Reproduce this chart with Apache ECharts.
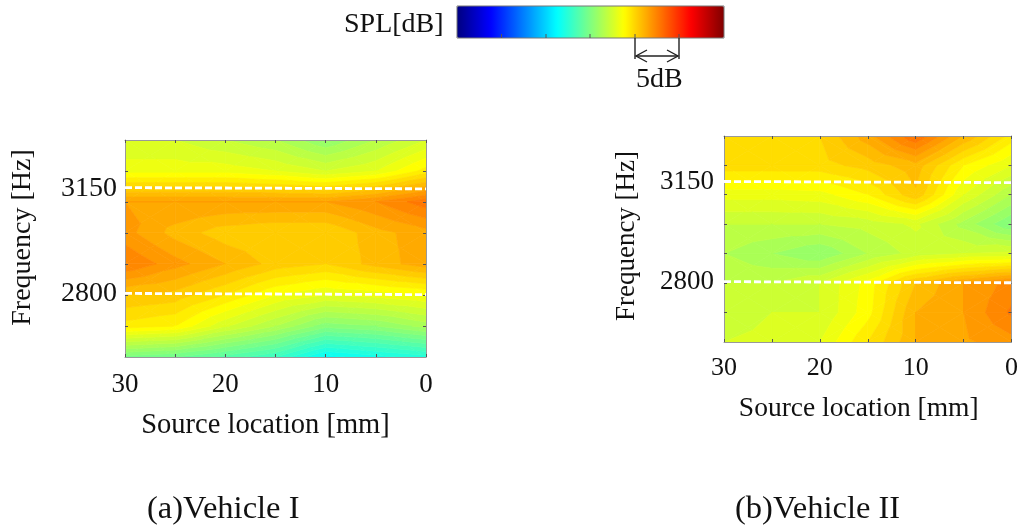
<!DOCTYPE html>
<html><head><meta charset="utf-8">
<style>html,body{margin:0;padding:0;background:#fff}#c{width:1021px;height:527px}</style>
<script src="https://cdn.jsdelivr.net/npm/echarts@6/dist/echarts.min.js"></script>
</head><body><div id="c"></div>
<script>
const sourceCols = [30,25,20,15,10,5,0];
const freqRows = [3310,3207,3105,3002,2899,2796,2693,2590];
const freqTicks = [3207,3105,3002,2899,2796,2693];
const freqLabels = [2800,3150];
const vehicle1 = [
 [17.5,17.5,17.0,16.5,15.5,16.5,17.5],
 [18.3,18.3,18.3,18.0,17.5,18.0,19.2],
 [21.5,21.5,21.5,21.5,21.5,22.0,22.8],
 [21.7,20.8,20.2,20.0,20.0,20.8,21.3],
 [22.5,21.7,21.0,20.3,20.0,20.7,21.3],
 [20.5,20.3,19.5,18.5,18.0,18.2,18.5],
 [19.3,19.0,17.6,16.5,15.2,15.5,16.2],
 [14.8,14.5,13.8,13.0,11.3,11.8,12.3]
];
const vehicle2 = [
 [19.9,20.0,20.0,21.3,23.0,21.0,19.3],
 [19.8,19.8,19.8,20.2,20.8,19.0,18.0],
 [18.2,18.2,18.3,19.0,20.4,18.0,16.5],
 [17.0,17.0,17.0,17.2,17.6,16.3,15.0],
 [16.5,16.0,15.5,16.5,17.2,17.5,17.6],
 [17.0,17.0,17.5,18.7,20.5,21.5,22.2],
 [17.3,17.5,17.5,18.8,21.0,21.5,22.6],
 [17.5,17.6,18.0,19.5,21.0,21.4,21.8]
];
const dashes1 = [[[30,3152],[0,3148]],[[30,2801],[0,2797]]];
const dashes2 = [[[30,3151],[0,3147]],[[30,2801],[0,2797]]];
const xTicksStep = 5, splMax = 30, bandStep = 0.5;
const jetColors = ['#000080','#0000ff','#0080ff','#00ffff','#80ff80','#ffff00','#ff8000','#ff0000','#800000'];

const FONT = '"Liberation Serif","Times New Roman",serif';
const INK = '#111';

function jet(v){
  const t = Math.max(0,Math.min(1,v/splMax))*(jetColors.length-1);
  const i = Math.min(jetColors.length-2,Math.floor(t)), f = t-i;
  const p = s=>[1,3,5].map(k=>parseInt(s.substr(k,2),16));
  const a=p(jetColors[i]), b=p(jetColors[i+1]);
  return 'rgb('+a.map((c,k)=>Math.round(c+(b[k]-c)*f)).join(',')+')';
}
function clip(poly,level,above){
  const out=[], inside=p=>above?p[2]>=level:p[2]<=level;
  for(let i=0;i<poly.length;i++){
    const a=poly[i], b=poly[(i+1)%poly.length];
    if(inside(a)) out.push(a);
    if(inside(a)!==inside(b)){
      const f=(level-a[2])/(b[2]-a[2]);
      out.push([a[0]+(b[0]-a[0])*f,a[1]+(b[1]-a[1])*f,level]);
    }
  }
  return out;
}
function contourItem(values){
  return function(params,api){
    const c=api.value(0), r=api.value(1);
    const P=(i,j)=>[sourceCols[i],freqRows[j],values[j][i]];
    const q=[P(c,r),P(c+1,r),P(c+1,r+1),P(c,r+1)];
    const m=[(q[0][0]+q[1][0])/2,(q[0][1]+q[3][1])/2,(q[0][2]+q[1][2]+q[2][2]+q[3][2])/4];
    const children=[];
    for(let e=0;e<4;e++){
      const tri=[q[e],q[(e+1)%4],m];
      const vs=tri.map(p=>p[2]);
      const k0=Math.floor(Math.min(...vs)/bandStep), k1=Math.floor(Math.max(...vs)/bandStep);
      for(let k=k0;k<=k1;k++){
        const lo=k*bandStep, hi=lo+bandStep;
        const poly=clip(clip(tri,lo,true),hi,false);
        if(poly.length<3) continue;
        const col=jet((lo+hi)/2);
        children.push({type:'polygon',shape:{points:poly.map(p=>api.coord([p[0],p[1]]))},
          style:{fill:col,stroke:col,lineWidth:0.7},silent:true});
      }
    }
    return {type:'group',children};
  };
}
function cells(values){
  const out=[];
  for(let r=0;r<freqRows.length-1;r++) for(let c=0;c<sourceCols.length-1;c++) out.push([c,r,values[r][c]]);
  return out;
}
const xBase = {type:'value',inverse:true,min:0,max:30,interval:xTicksStep,z:5,splitLine:{show:false}};
const yBase = {type:'value',min:2590,max:3310,z:5,splitLine:{show:false}};
const lineS={show:true,onZero:false,lineStyle:{color:'#999',width:1}};
const tickS={show:true,inside:true,length:3,lineStyle:{color:'#555',width:1}};
function xAxes(g,gap,margin,tickFs,nameFs,pad){
  return [
    Object.assign({},xBase,{gridIndex:g,position:'bottom',axisLine:lineS,axisTick:tickS,
      axisLabel:{show:true,margin:margin,color:INK,fontFamily:FONT,fontSize:tickFs,hideOverlap:false,showMinLabel:true,showMaxLabel:true,
        formatter:v=>v%10===0?String(v):''},
      name:'Source location [mm]',nameLocation:'middle',nameGap:gap,
      nameTextStyle:{color:INK,fontFamily:FONT,fontSize:nameFs,padding:[0,pad,0,0]}}),
    Object.assign({},xBase,{gridIndex:g,position:'top',axisLine:lineS,axisTick:tickS,axisLabel:{show:false}})
  ];
}
function yAxes(g,gap,margin,tickFs,nameFs,pad){
  return [
    Object.assign({},yBase,{gridIndex:g,position:'left',axisLine:lineS,
      axisTick:Object.assign({},tickS,{customValues:freqTicks}),
      axisLabel:{show:true,margin:margin,color:INK,fontFamily:FONT,fontSize:tickFs,customValues:freqLabels,formatter:v=>String(v)},
      name:'Frequency [Hz]',nameLocation:'middle',nameGap:gap,nameRotate:90,
      nameTextStyle:{color:INK,fontFamily:FONT,fontSize:nameFs,padding:[0,0,0,pad]}}),
    Object.assign({},yBase,{gridIndex:g,position:'right',axisLine:lineS,
      axisTick:Object.assign({},tickS,{customValues:freqTicks}),axisLabel:{show:false}})
  ];
}
function dashSeries(d,ax){
  return d.map(seg=>({type:'line',xAxisIndex:ax,yAxisIndex:ax,data:seg,showSymbol:false,symbol:'none',silent:true,z:6,
    lineStyle:{color:'#fff',width:2.8,type:[7,3]}}));
}
const bracket={stroke:'#222',lineWidth:1.4};
const option={
  animation:false,
  backgroundColor:'#fff',
  title:[
    {text:'SPL[dB]',left:344,top:11,textStyle:{fontFamily:FONT,fontSize:28,fontWeight:'normal',color:INK},padding:0},
    {text:'5dB',left:636,top:66,textStyle:{fontFamily:FONT,fontSize:28,fontWeight:'normal',color:INK},padding:0},
    {text:'(a)Vehicle I',left:147,top:493,textStyle:{fontFamily:FONT,fontSize:32.5,fontWeight:'normal',color:INK},padding:0},
    {text:'(b)Vehicle II',left:735,top:493,textStyle:{fontFamily:FONT,fontSize:32.5,fontWeight:'normal',color:INK},padding:0}
  ],
  grid:[
    {left:125,top:140,width:301,height:217},
    {left:724,top:136,width:289,height:206}
  ],
  xAxis:[...xAxes(0,54,14,27,28.5,20),...xAxes(1,53,13,26,27.5,18)],
  yAxis:[...yAxes(0,88,8,28,28,22),...yAxes(1,84,10,27,27,6)],
  visualMap:{type:'continuous',show:true,seriesIndex:[0,1],dimension:2,min:0,max:splMax,
    orient:'horizontal',left:457,top:6,itemWidth:32,itemHeight:267,padding:0,text:null,
    calculable:false,realtime:false,hoverLink:false,showLabel:false,textStyle:{fontSize:0,color:'transparent'},
    inRange:{color:jetColors},outOfRange:{color:jetColors}},
  series:[
    {type:'custom',xAxisIndex:0,yAxisIndex:0,coordinateSystem:'cartesian2d',data:cells(vehicle1),renderItem:contourItem(vehicle1),z:2,clip:true},
    {type:'custom',xAxisIndex:2,yAxisIndex:2,coordinateSystem:'cartesian2d',data:cells(vehicle2),renderItem:contourItem(vehicle2),z:2,clip:true},
    ...dashSeries(dashes1,0),
    ...dashSeries(dashes2,2)
  ],
  graphic:[
    {type:'rect',shape:{x:457,y:6,width:267,height:32},style:{fill:'none',stroke:'#777',lineWidth:1},z:100,silent:true},
    ...[501.5,546,590,635,679].map(x=>({type:'line',shape:{x1:x,y1:34,x2:x,y2:38},style:{stroke:'#555',lineWidth:1},z:100,silent:true})),
    {type:'line',shape:{x1:635,y1:38,x2:635,y2:59},style:bracket,z:100,silent:true},
    {type:'line',shape:{x1:679,y1:38,x2:679,y2:59},style:bracket,z:100,silent:true},
    {type:'line',shape:{x1:636,y1:56,x2:678,y2:56},style:bracket,z:100,silent:true},
    {type:'polyline',shape:{points:[[647,50],[636,56],[647,62]]},style:{fill:'none',stroke:'#222',lineWidth:1.4},z:100,silent:true},
    {type:'polyline',shape:{points:[[667,50],[678,56],[667,62]]},style:{fill:'none',stroke:'#222',lineWidth:1.4},z:100,silent:true}
  ]
};
const chart=echarts.init(document.getElementById('c'),null,{renderer:'canvas'});
chart.setOption(option);
</script></body></html>
